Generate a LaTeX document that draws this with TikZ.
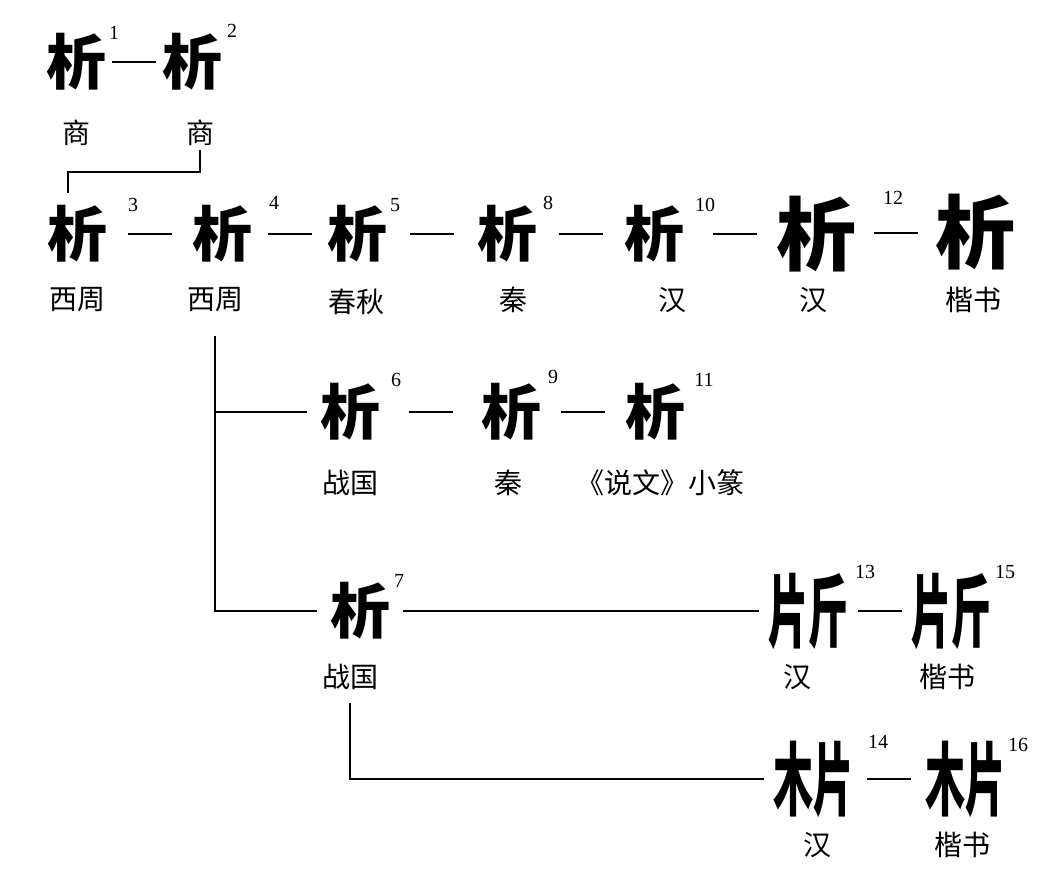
\documentclass[tikz,border=0pt]{standalone}
\usepackage{fontspec}
\setmainfont{Liberation Serif}
\newfontfamily\cjk{Noto Sans CJK SC}
\usepackage{graphicx}
\usepackage{tikz}
\usetikzlibrary{calc}
\def\link(#1)(#2){\draw ($(#1)!.5!(#2)+(-22,0)$) -- ($(#1)!.5!(#2)+(22,0)$);}
\newcommand\halves[2]{\scalebox{.5}[1]{#1}\scalebox{.5}[1]{#2}}

\begin{document}
\begin{tikzpicture}[x=1pt, y=-1pt, line width=1.6pt,
		glyph/.style={inner sep=12pt, font=\cjk\bfseries\fontsize{60}{60}\selectfont},
		kaishu/.style={inner sep=8pt, font=\cjk\bfseries\fontsize{80}{80}\selectfont},
		era/.style={inner sep=3pt, font=\cjk\fontsize{28}{28}\selectfont},
		num/.style={inner sep=0pt, font=\fontsize{20}{20}\selectfont}]
			%%%%% START %%%%%
			\useasboundingbox (0, 0) rectangle (1056, 888);
			
			% shang
			\node[glyph] (g1) at (76, 62) {析};
			\node[glyph] (g2) at (192, 62) {析};
			\node[num] at (114, 33) {1};
			\node[num] at (232, 31) {2};
			\node[era] (l1) at (76, 133) {商};
			\node[era] (l2) at (200, 133) {商};
			\link(g1)(g2)
			
			% main row
			\node[glyph] (g3) at (77, 234) {析};
			\node[glyph] (g4) at (222, 234) {析};
			\node[glyph] (g5) at (357, 234) {析};
			\node[glyph] (g8) at (507, 234) {析};
			\node[glyph] (g10) at (654, 234) {析};
			\node[kaishu] (g12) at (816, 234) {析};
			\node[kaishu] (kai) at (975, 232) {析};
			
			\node[num] at (133, 205) {3};
			\node[num] at (274, 203) {4};
			\node[num] at (395, 205) {5};
			\node[num] at (548, 203) {8};
			\node[num] at (705, 205) {10};
			\node[num] at (893, 198) {12};
			
			\node[era] (l3) at (77, 300) {西周};
			\node[era] (l4) at (215, 300) {西周};
			\node[era] (l5) at (356, 302) {春秋};
			\node[era] (l8) at (513, 300) {秦};
			\node[era] (l10) at (672, 300) {汉};
			\node[era] (l12) at (813, 300) {汉};
			\node[era] (lkai) at (973, 300) {楷书};
			
			\link(g3)(g4)
			\link(g4)(g5)
			\link(g5)(g8)
			\link(g8)(g10)
			\link(g10)(g12)
			\link(g12)(kai)
			
			\draw (l2.south) -- ++(0, 22) -| ([xshift=-9pt]g3.north);
			
			% second row
			\node[glyph] (g6) at (350, 412) {析};
			\node[glyph] (g9) at (511, 412) {析};
			\node[glyph] (g11) at (655, 412) {析};
			\node[num] at (396, 380) {6};
			\node[num] at (553, 377) {9};
			\node[num] at (704, 380) {11};
			\node[era] (l6) at (350, 483) {战国};
			\node[era] (l9) at (508, 483) {秦};
			\node[era] (l11) at (660, 483) {《说文》小篆};
			\link(g6)(g9)
			\link(g9)(g11)
			
			% third row
			\node[glyph] (g7) at (360, 611) {析};
			\node[num] at (399, 581) {7};
			\node[era] (l7) at (350, 677) {战国};
			\node[kaishu] (g13) at (808, 611) {\halves{片}{斤}};
			\node[kaishu] (g15) at (951, 611) {\halves{片}{斤}};
			\node[num] at (865, 572) {13};
			\node[num] at (1005, 572) {15};
			\node[era] (l13) at (797, 677) {汉};
			\node[era] (l15) at (947, 677) {楷书};
			\link(g13)(g15)
			
			\draw[shorten <=20pt] (l4.south) |- (g7.west);
			\draw (l4.south |- g6.west) -- (g6.west);
			\draw (g7.east) -- (g13.west);
			
			% fourth row
			\node[kaishu] (g14) at (813, 779) {\halves{木}{片}};
			\node[kaishu] (g16) at (965, 779) {\halves{木}{片}};
			\node[num] at (878, 742) {14};
			\node[num] at (1018, 745) {16};
			\node[era] (l14) at (817, 845) {汉};
			\node[era] (l16) at (962, 845) {楷书};
			\link(g14)(g16)
			
			\draw[shorten <=9pt] (l7.south) |- (g14.west);
			%%%%% END %%%%%
		\end{tikzpicture}
\end{document}
